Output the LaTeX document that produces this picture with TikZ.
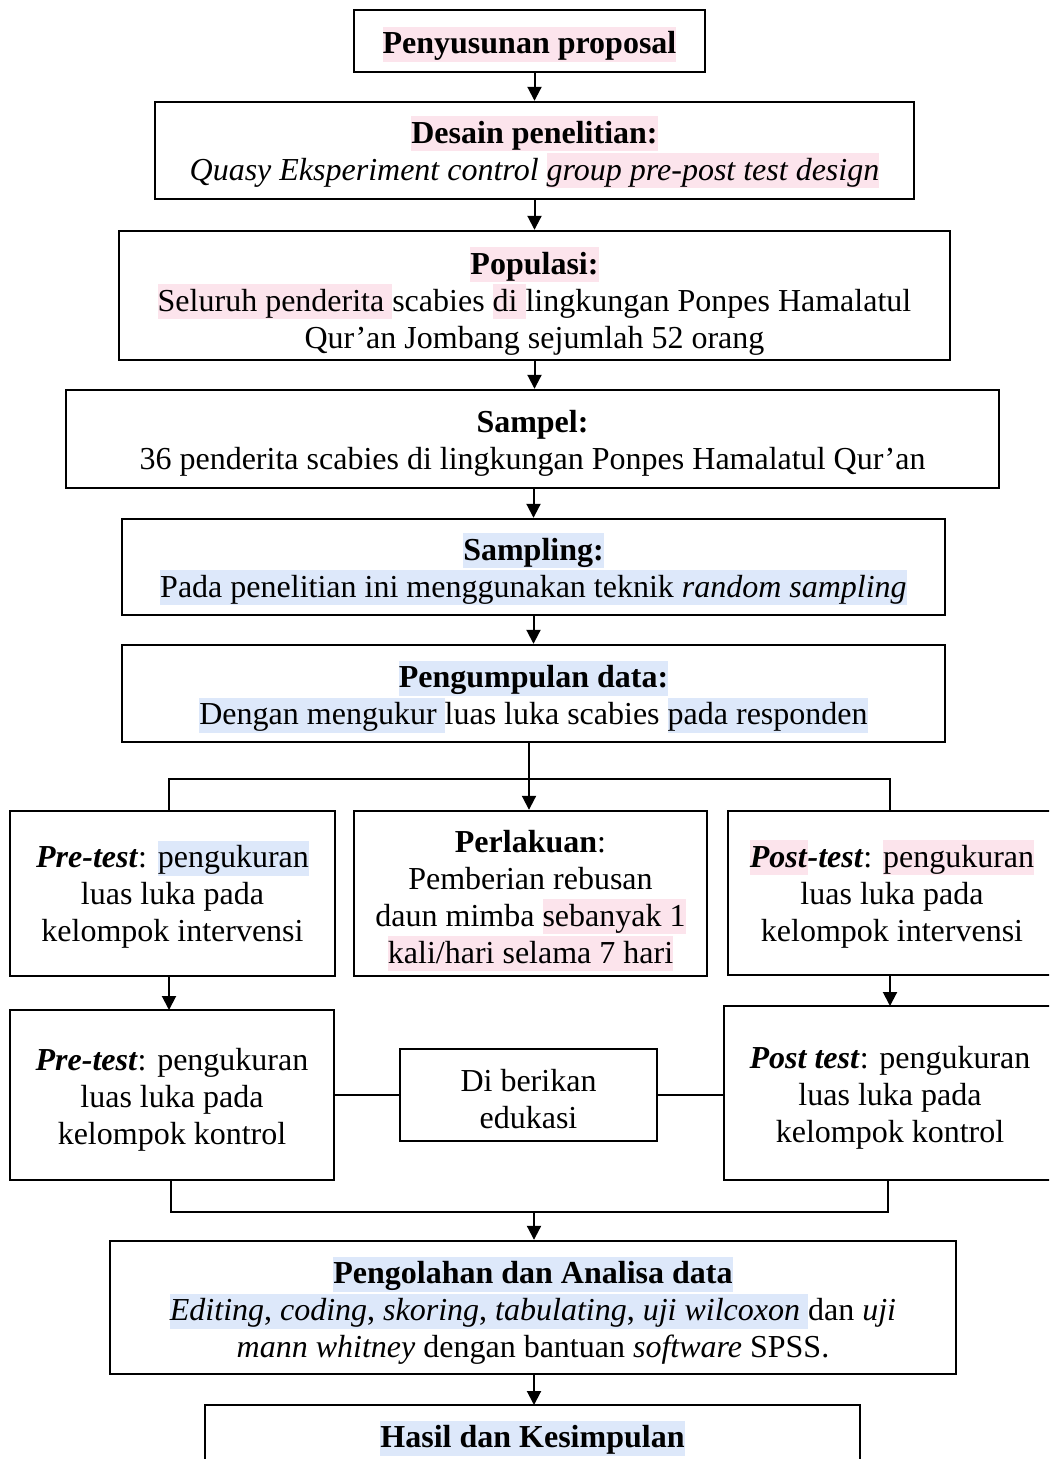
\documentclass[tikz,border=0pt]{standalone}
\usepackage{fontspec}
\setmainfont{Liberation Serif}
\usetikzlibrary{arrows.meta}
\definecolor{hlpink}{RGB}{252,228,236}
\definecolor{hlblue}{RGB}{221,232,250}
\newcommand\hp[1]{{\setlength{\fboxsep}{0pt}\colorbox{hlpink}{\rule[-4pt]{0pt}{17.5pt}#1}}}
\newcommand\hb[1]{{\setlength{\fboxsep}{0pt}\colorbox{hlblue}{\rule[-4pt]{0pt}{17.5pt}#1}}}
\tikzset{
  box/.style={draw, line width=1.2pt, inner sep=0pt},
  txt/.style={align=center, inner sep=0pt, font=\fontsize{16pt}{18.5pt}\selectfont},
  conn/.style={line width=1pt},
  arr/.style={line width=1pt, -{Triangle[length=7pt,width=7pt]}},
}
\begin{document}
\begin{tikzpicture}[x=0.5pt,y=-0.5pt]
\useasboundingbox (0,0) rectangle (1049,1459);
\clip (0,0) rectangle (1049,1459);
% boxes
\node[box, minimum width=175.5pt, minimum height=31pt] (b1) at (529.5,41) {};
\node[box, minimum width=379.5pt, minimum height=48.5pt] (b2) at (534.5,150.5) {};
\node[box, minimum width=415.5pt, minimum height=64.5pt] (b3) at (534.5,295.5) {};
\node[box, minimum width=466.5pt, minimum height=49pt] (b4) at (532.5,439) {};
\node[box, minimum width=411.5pt, minimum height=48pt] (b5) at (533.5,567) {};
\node[box, minimum width=411.5pt, minimum height=48.5pt] (b6) at (533.5,693.5) {};
\node[box, minimum width=162.5pt, minimum height=82.5pt] (b7) at (172.5,893.5) {};
\node[box, minimum width=176.5pt, minimum height=82.5pt] (b8) at (530.5,893.5) {};
\node[box, minimum width=164pt, minimum height=82pt] (b9) at (892,893) {};
\node[box, minimum width=162pt, minimum height=85pt] (b10) at (172,1095) {};
\node[box, minimum width=166pt, minimum height=87pt] (b11) at (890,1093) {};
\node[box, minimum width=128.5pt, minimum height=46pt] (b12) at (528.5,1095) {};
\node[box, minimum width=423pt, minimum height=66.5pt] (b13) at (533,1307.5) {};
\node[box, minimum width=327.5pt, minimum height=57.5pt] (b14) at (532.5,1462.5) {};
% texts
\node[txt] (t1) at (529.5,44.5) {\hp{\textbf{Penyusunan proposal}}};
\node[txt] (t2) at (534.5,152.5) {\hp{\textbf{Desain penelitian:}}\\ \textit{Quasy Eksperiment control \hp{group pre-post test design}}};
\node[txt] (t3) at (534.5,301) {\hp{\textbf{Populasi:}}\\ \hp{Seluruh penderita }scabies \hp{di }lingkungan Ponpes Hamalatul\\ Qur’an Jombang sejumlah 52 orang};
\node[txt] (t4) at (532.5,443) {\textbf{Sampel:}\\ 36 penderita scabies di lingkungan Ponpes Hamalatul Qur’an};
\node[txt] (t5) at (533.5,569) {\hb{\textbf{Sampling:}}\\ \hb{Pada penelitian ini menggunakan teknik \textit{random sampling}}};
\node[txt] (t6) at (533.5,696.5) {\hb{\textbf{Pengumpulan data:}}\\ \hb{Dengan mengukur }luas luka scabies \hb{pada responden}};
\node[txt] (t7) at (172.5,894.5) {\textbf{\textit{Pre-test}}: \hb{pengukuran}\\ luas luka pada\\ kelompok intervensi};
\node[txt] (t8) at (530.5,900.5) {\textbf{Perlakuan}:\\ Pemberian rebusan\\ daun mimba \hp{sebanyak 1}\\ \hp{kali/hari selama 7 hari}};
\node[txt] (t9) at (892,894) {\hp{\textbf{\textit{Post}}}\textbf{\textit{-test}}: \hp{pengukuran}\\ luas luka pada\\ kelompok intervensi};
\node[txt] (t10) at (172,1100) {\textbf{\textit{Pre-test}}: pengukuran\\ luas luka pada\\ kelompok kontrol};
\node[txt] (t11) at (890,1098) {\textbf{\textit{Post test}}: pengukuran\\ luas luka pada\\ kelompok kontrol};
\node[txt] (t12) at (528.5,1099) {Di berikan\\ edukasi};
\node[txt] (t13) at (533,1310.5) {\hb{\textbf{Pengolahan dan Analisa data}}\\ \hb{\textit{Editing}, \textit{coding}, \textit{skoring}, \textit{tabulating}, \textit{uji wilcoxon} }dan \textit{uji}\\ \textit{mann whitney} dengan bantuan \textit{software} SPSS.};
\node[txt] (t14) at (532.5,1438) {\hb{\textbf{Hasil dan Kesimpulan}}};
% connectors
\draw[arr] (b2.north |- b1.south) -- (b2.north);
\draw[arr] (b2.south) -- (b3.north);
\draw[arr] (b3.south) -- (b3.south |- b4.north);
\draw[arr] (b4.south -| b5.north) -- (b5.north);
\draw[arr] (b5.south) -- (b6.south |- b6.north);
\coordinate (split) at (529,779);
\draw[conn] (b6.south -| split) -- (split);
\draw[arr] (split) -- (split |- b8.north);
\draw[conn] (169,811) |- (split) -| (890,811);
\draw[arr] (b7.south -| 169,0) -- (169,1010);
\draw[arr] (b9.south -| 890,0) -- (890,1006);
\draw[conn] (b10.east) -- (b12.west);
\draw[conn] (b12.east) -- (b11.west |- b12.east);
\coordinate (merge) at (534,1212);
\draw[conn] (171,1180) |- (merge) -| (888,1180);
\draw[arr] (merge) -- (merge |- b13.north);
\draw[arr] (b13.south -| 534,0) -- (534,1405);
\end{tikzpicture}
\end{document}
